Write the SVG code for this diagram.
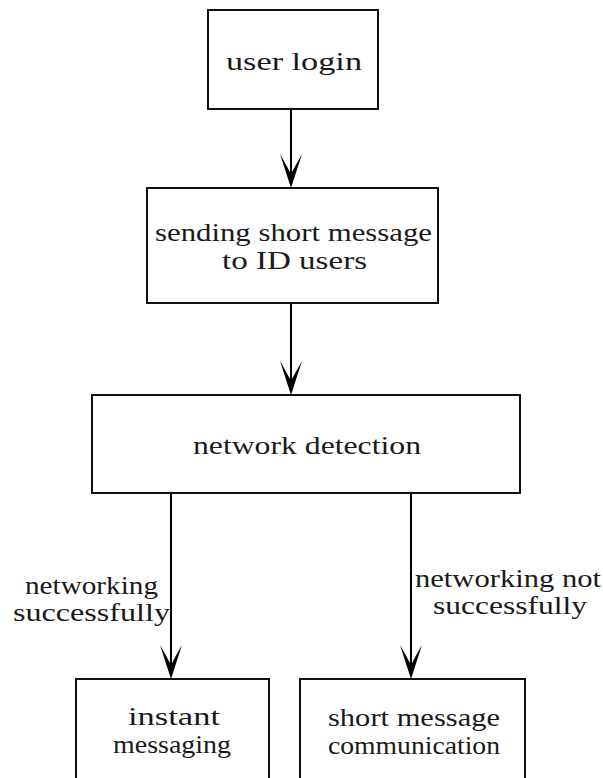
<svg xmlns="http://www.w3.org/2000/svg" width="603" height="778" viewBox="0 0 603 778">
<style>
.box{fill:#fff;stroke:#111;stroke-width:2}
.t{font-family:"Liberation Serif","Times New Roman",serif;font-size:26px;fill:#1a1a1a}
.c{stroke:#000;stroke-width:2;fill:none}
</style>
<defs>
<marker id="ah" markerUnits="userSpaceOnUse" viewBox="-20 -12 36 24" refX="0" refY="0" markerWidth="36" markerHeight="24" orient="auto" overflow="visible">
<path d="M14,0 L-20,-11 Q-6,-3 0,0 Q-6,3 -20,11 Z" fill="#000"/>
</marker>
</defs>
<rect width="603" height="778" fill="#fff"/>
<g id="connectors">
<line class="c" x1="291" y1="109" x2="291" y2="174" marker-end="url(#ah)"/>
<line class="c" x1="291" y1="303" x2="291" y2="381" marker-end="url(#ah)"/>
<line class="c" x1="171" y1="493" x2="171" y2="665" marker-end="url(#ah)"/>
<line class="c" x1="411" y1="493" x2="411" y2="665" marker-end="url(#ah)"/>
</g>
<g id="login">
<rect class="box" x="208" y="10" width="170" height="99"/>
<text class="t" x="226" y="70" textLength="136" lengthAdjust="spacingAndGlyphs">user login</text>
</g>
<g id="sending">
<rect class="box" x="147" y="188" width="291" height="115"/>
<text class="t" x="155" y="241" textLength="277" lengthAdjust="spacingAndGlyphs">sending short message</text>
<text class="t" x="222" y="269" textLength="145" lengthAdjust="spacingAndGlyphs">to ID users</text>
</g>
<g id="detection">
<rect class="box" x="92" y="395" width="428" height="98"/>
<text class="t" x="193" y="454" textLength="228" lengthAdjust="spacingAndGlyphs">network detection</text>
</g>
<g id="labels">
<text class="t" x="25" y="594" textLength="133" lengthAdjust="spacingAndGlyphs">networking</text>
<text class="t" x="13" y="621" textLength="157" lengthAdjust="spacingAndGlyphs">successfully</text>
<text class="t" x="415" y="587" textLength="186" lengthAdjust="spacingAndGlyphs">networking not</text>
<text class="t" x="433" y="614" textLength="154" lengthAdjust="spacingAndGlyphs">successfully</text>
</g>
<g id="instant">
<rect class="box" x="76" y="679" width="193" height="120"/>
<text class="t" x="128" y="725" textLength="92" lengthAdjust="spacingAndGlyphs">instant</text>
<text class="t" x="113" y="753" textLength="118" lengthAdjust="spacingAndGlyphs">messaging</text>
</g>
<g id="sms">
<rect class="box" x="300" y="679" width="225" height="120"/>
<text class="t" x="328" y="726" textLength="172" lengthAdjust="spacingAndGlyphs">short message</text>
<text class="t" x="328" y="754" textLength="172" lengthAdjust="spacingAndGlyphs">communication</text>
</g>
</svg>
